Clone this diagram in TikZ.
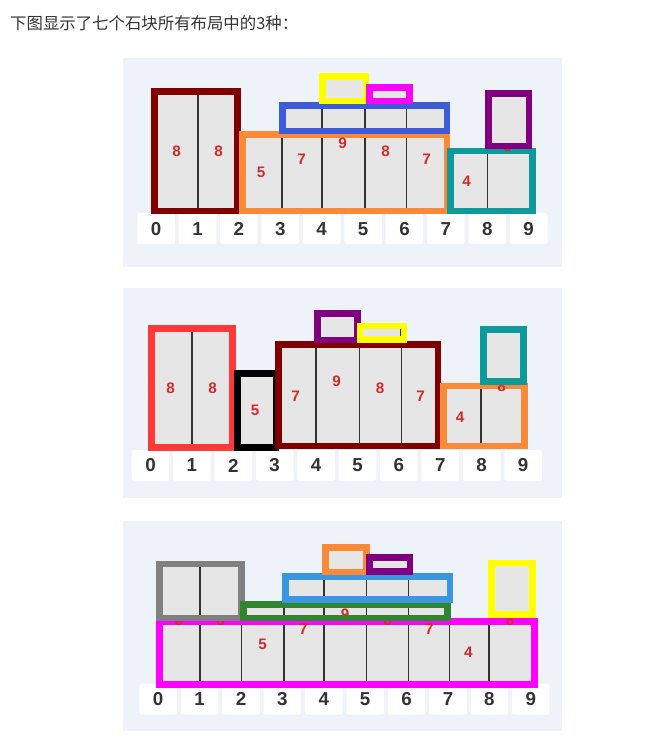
\documentclass[tikz,border=0pt]{standalone}
\usepackage{fontspec}
\setmainfont{Liberation Sans}
\newfontfamily\cjkfont{Noto Sans CJK SC}
\usepackage{xcolor}
\definecolor{panelbg}{HTML}{EEF2F9}
\definecolor{cellgray}{HTML}{E6E6E6}
\definecolor{divline}{HTML}{333333}
\definecolor{hgtred}{HTML}{D42A2A}
\definecolor{numdark}{HTML}{333333}
\definecolor{stmaroon}{HTML}{800000}
\definecolor{storange}{HTML}{FA8A38}
\definecolor{stteal}{HTML}{0E9A9A}
\definecolor{stpurple}{HTML}{800080}
\definecolor{stblue}{HTML}{3E5BD8}
\definecolor{stsky}{HTML}{3A96E0}
\definecolor{styellow}{HTML}{FFFF00}
\definecolor{stmagenta}{HTML}{FF00FF}
\definecolor{stred}{HTML}{FF3838}
\definecolor{stgrey}{HTML}{808080}
\definecolor{stgreen}{HTML}{2F8530}

\begin{document}
\begin{tikzpicture}[x=0.03cm,y=-0.03cm,
    stone/.style={draw=#1,line width=5.5pt,fill=cellgray},
    divider/.style={divline,line width=1.1pt},
    hgt/.style={text=hgtred,inner sep=0pt,font=\bfseries\fontsize{13}{13}\selectfont},
    numbox/.style={fill=white,rounded corners=1.5pt,minimum width=1.13cm,minimum height=0.93cm,
          inner sep=0pt,text=numdark,font=\bfseries\fontsize{16}{16}\selectfont},
    panel/.style={fill=panelbg}]
  \useasboundingbox (0,0) rectangle (651,743);
  \node[anchor=west,inner sep=0pt,text=numdark,font=\cjkfont\fontsize{14}{14}\selectfont](title)
    at (10,22.8){下图显示了七个石块所有布局中的3种：};

  % layout 1
  \fill[panel] (123.3,58.3) rectangle (561.7,266.7);
  \foreach \i in {0,...,9}
    \node[numbox](a\i) at ({156.1+41.4*\i},228.7){\i};
  \draw[stone=stmaroon] (154.3,91.6) rectangle (237.5,211.1);
  \draw[divider] (198,94.9) -- (198,207.9);
  \node[hgt](a8l) at (176.7,151){8};
  \node[hgt](a8r) at (218.7,151){8};
  \draw[stone=storange] (242.5,134.3) rectangle (446.8,211.1);
  \foreach \x in {282,322,365,406.7}
    \draw[divider] (\x,137.6) -- (\x,207.9);
  \node[hgt](a5) at (261,172.7){5};
  \node[hgt](a7l) at (301.7,159){7};
  \node[hgt](a9) at (342.7,143.3){9};
  \node[hgt](a8m) at (385.7,151.7){8};
  \node[hgt](a7r) at (426.7,159){7};
  \draw[stone=stteal] (450.5,151) rectangle (532.5,211.1);
  \draw[divider] (487.3,154.3) -- (487.3,207.9);
  \node[hgt](a4) at (466.7,181){4};
  \node[hgt](a8h) at (507.7,146.7){8};
  \draw[stone=stpurple] (488.3,93.3) rectangle (528.8,145.8);
  \draw[stone=stblue] (282.5,105.5) rectangle (446.8,130.8);
  \foreach \x in {322,365,406.7}
    \draw[divider] (\x,108.8) -- (\x,127.6);
  \draw[stone=styellow] (322.3,76.6) rectangle (366,100.8);
  \draw[stone=stmagenta] (369.3,87.3) rectangle (409.5,100.8);

  % layout 2
  \fill[panel] (123.3,288.3) rectangle (561.7,498.3);
  \foreach \i in {0,...,9}
    \node[numbox](b\i) at ({150.5+41.4*\i},465.5){\i};
  \draw[stone=stred] (151.6,328.3) rectangle (232.4,447.4);
  \draw[divider] (192,331.6) -- (192,444.1);
  \node[hgt](b8l) at (170.7,388.3){8};
  \node[hgt](b8r) at (212.7,388.3){8};
  \draw[stone=black] (237.6,373.3) rectangle (275.8,447.4);
  \node[hgt](b5) at (255,410){5};
  \draw[stone=stmaroon] (278.3,344.3) rectangle (437.8,446);
  \foreach \x in {316,359.3,401.7}
    \draw[divider] (\x,347.6) -- (\x,442.7);
  \node[hgt](b7l) at (295.7,396){7};
  \node[hgt](b9) at (336.7,381){9};
  \node[hgt](b8m) at (380,388.3){8};
  \node[hgt](b7r) at (420.7,396){7};
  \draw[stone=storange] (443.3,386) rectangle (524.4,446);
  \draw[divider] (481,389.3) -- (481,442.7);
  \node[hgt](b4) at (460,417.7){4};
  \node[hgt](b8h) at (501.7,386.3){8};
  \draw[stone=stteal] (483.3,329.3) rectangle (523.4,381.7);
  \draw[stone=stpurple] (317.3,313.3) rectangle (357.4,340);
  \draw[stone=styellow] (360,326) rectangle (404,339.4);
  \draw[divider] (400.7,329.3) -- (400.7,336.1);

  % layout 3
  \fill[panel] (123.3,521.3) rectangle (561.7,731.3);
  \foreach \i in {0,...,9}
    \node[numbox](c\i) at ({158.2+41.4*\i},699.2){\i};
  \draw[stone=stmagenta] (159.3,621.3) rectangle (534.4,684.7);
  \foreach \x in {200,241.7,284,324,366.7,408.7,449.3,489}
    \draw[divider] (\x,624.6) -- (\x,681.4);
  \node[hgt](c8a) at (179,620.3){8};
  \node[hgt](c8b) at (220.7,620.3){8};
  \node[hgt](c5) at (262.7,644){5};
  \node[hgt](c7l) at (303.3,629.7){7};
  \node[hgt](c8c) at (387.7,620.3){8};
  \node[hgt](c7r) at (429.3,629.7){7};
  \node[hgt](c4) at (468.3,652.3){4};
  \node[hgt](c8d) at (510,620.3){8};
  \draw[stone=stgrey] (159.3,564) rectangle (241.7,618);
  \draw[divider] (200,567.3) -- (200,614.7);
  \draw[stone=stgreen] (243.3,604.6) rectangle (447.4,618);
  \foreach \x in {284,324,366.7,408.7}
    \draw[divider] (\x,607.9) -- (\x,614.7);
  \begin{scope}
    \clip (246.6,607.9) rectangle (444.2,614.7);
    \node[hgt](c9) at (345,614){9};
  \end{scope}
  \draw[stone=stsky] (285.6,576.3) rectangle (450,599.7);
  \foreach \x in {324,366.7,408.7}
    \draw[divider] (\x,579.6) -- (\x,596.4);
  \draw[stone=storange] (325.6,547.3) rectangle (366.7,572);
  \draw[stone=stpurple] (369.3,557.3) rectangle (410,571.4);
  \draw[stone=styellow] (491.6,563) rectangle (532.4,614.7);
\end{tikzpicture}
\end{document}
